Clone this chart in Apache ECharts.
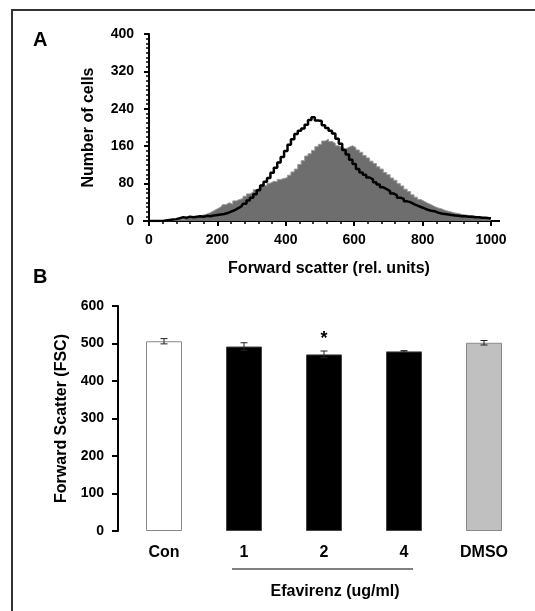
<!DOCTYPE html>
<html>
<head>
    <meta charset="UTF-8">
    <title>Forward scatter</title>
    <script src="https://cdn.jsdelivr.net/npm/echarts@6/dist/echarts.min.js"></script>
    <style>
        body { margin: 0; background: #fff; }
        #main { width: 535px; height: 611px; }
    </style>
</head>
<body>
<div id="main"></div>
<script>
// panel A: histogram, one value per 10-unit channel bin
var channels = [0,10,20,30,40,50,60,70,80,90,
    100,110,120,130,140,150,160,170,180,190,
    200,210,220,230,240,250,260,270,280,290,
    300,310,320,330,340,350,360,370,380,390,
    400,410,420,430,440,450,460,470,480,490,
    500,510,520,530,540,550,560,570,580,590,
    600,610,620,630,640,650,660,670,680,690,
    700,710,720,730,740,750,760,770,780,790,
    800,810,820,830,840,850,860,870,880,890,
    900,910,920,930,940,950,960,970,980,990,1000];
var controlCounts = [0,0,0,0,0,0,0,1,2,3,
    4,5,6,7,9,11,13,15,18,22,
    26,30,35,39,36,43,46,48,53,58,
    62,67,71,77,75,81,85,84,89,91,
    93,98,105,111,121,129,139,144,151,159,
    164,171,175,170,166,161,158,154,158,161,
    157,152,147,140,135,128,123,116,111,104,
    99,92,87,80,75,68,63,56,51,46,
    42,38,35,31,28,26,23,21,19,17,
    16,14,13,12,11,10,9,8,7,6,5];
var efavirenzCounts = [0,0,0,0,0,1,2,3,4,6,
    8,7,9,8,9,10,9,11,10,12,
    13,14,15,17,20,23,27,31,37,44,
    50,57,66,76,84,92,103,114,125,137,
    150,163,175,186,193,198,206,216,222,215,
    214,205,199,193,187,176,165,152,142,131,
    122,111,104,99,93,89,83,78,72,68,
    64,59,55,50,47,42,40,36,33,30,
    27,24,22,21,18,16,15,14,13,12,
    11,10,10,9,9,8,8,7,7,6,6];

// panel B: mean FSC with error
var groups = ['Con', '1', '2', '4', 'DMSO'];
var fscMean = [506, 492, 471, 479, 502];
var fscErr = [7, 10, 9, 2, 6];
var sigMarks = ['', '', '*', '', ''];

var barFill = ['#ffffff', '#000000', '#000000', '#000000', '#c0c0c0'];
var barBorder = ['#888888', '#444444', '#444444', '#444444', '#888888'];

function pairs(xs, ys) {
    return xs.map(function (x, i) { return [x, ys[i]]; });
}

var font = 'Liberation Sans, Arial, sans-serif';
var chart = echarts.init(document.getElementById('main'), null, {renderer: 'canvas'});

function renderErr(params, api) {
    var i = params.dataIndex;
    var cat = api.value(0), m = api.value(1), e = api.value(2);
    var top = api.coord([cat, m + e]);
    var bot = api.coord([cat, m - e]);
    var hw = 3.5;
    var st = {stroke: '#222', lineWidth: 1};
    var kids = [
        {type: 'line', shape: {x1: top[0], y1: top[1], x2: bot[0], y2: bot[1]}, style: st},
        {type: 'line', shape: {x1: top[0] - hw, y1: top[1], x2: top[0] + hw, y2: top[1]}, style: st},
        {type: 'line', shape: {x1: bot[0] - hw, y1: bot[1], x2: bot[0] + hw, y2: bot[1]}, style: st}
    ];
    if (sigMarks[i]) {
        kids.push({type: 'text', x: top[0], y: top[1] - 3,
            style: {text: sigMarks[i], fill: '#000', font: 'bold 18px ' + font, align: 'center', verticalAlign: 'bottom'}});
    }
    return {type: 'group', children: kids};
}

var tickFont = {fontSize: 14, fontWeight: 'bold', color: '#000'};

var option = {
    animation: false,
    backgroundColor: '#fff',
    textStyle: {fontFamily: font},
    title: [
        {text: 'A', left: 33, top: 30, padding: 0, textStyle: {fontSize: 20, fontWeight: 'bold', color: '#000', fontFamily: font}},
        {text: 'B', left: 33, top: 267, padding: 0, textStyle: {fontSize: 20, fontWeight: 'bold', color: '#000', fontFamily: font}}
    ],
    grid: [
        {left: 149, right: 44, top: 34, bottom: 390},
        {left: 124, right: 11, top: 306, bottom: 80}
    ],
    xAxis: [
        {
            gridIndex: 0, type: 'value', min: 0, max: 1000, interval: 200,
            name: 'Forward scatter (rel. units)', nameLocation: 'middle', nameGap: 40,
            nameTextStyle: {fontSize: 16, fontWeight: 'bold', color: '#000', padding: [0, 0, 0, 18]},
            axisLine: {lineStyle: {color: '#000', width: 2}},
            axisTick: {length: 5, lineStyle: {color: '#000', width: 2}},
            minorTick: {show: true, splitNumber: 5, length: 3, lineStyle: {color: '#000', width: 1.5}},
            axisLabel: Object.assign({margin: 12, formatter: function (v) { return String(v); }}, tickFont),
            splitLine: {show: false}
        },
        {
            gridIndex: 1, type: 'category', data: groups,
            axisLine: {show: false}, axisTick: {show: false},
            axisLabel: {fontSize: 16, fontWeight: 'bold', color: '#000', margin: 14}
        }
    ],
    yAxis: [
        {
            gridIndex: 0, type: 'value', min: 0, max: 400, interval: 80, offset: 2,
            name: 'Number of cells', nameLocation: 'middle', nameGap: 50,
            nameTextStyle: {fontSize: 16, fontWeight: 'bold', color: '#000'},
            axisLine: {show: true, lineStyle: {color: '#000', width: 2}},
            axisTick: {show: true, length: 5, lineStyle: {color: '#000', width: 2}},
            minorTick: {show: true, splitNumber: 8, length: 3, lineStyle: {color: '#000', width: 1.5}},
            axisLabel: Object.assign({margin: 13}, tickFont),
            splitLine: {show: false}
        },
        {
            gridIndex: 1, type: 'value', min: 0, max: 600, interval: 100, offset: 6,
            name: 'Forward Scatter (FSC)', nameLocation: 'middle', nameGap: 48,
            nameTextStyle: {fontSize: 16, fontWeight: 'bold', color: '#000'},
            axisLine: {show: true, lineStyle: {color: '#000', width: 2}},
            axisTick: {show: true, length: 6, lineStyle: {color: '#000', width: 2}},
            axisLabel: Object.assign({margin: 14}, tickFont),
            splitLine: {show: false}
        }
    ],
    series: [
        {
            type: 'line', xAxisIndex: 0, yAxisIndex: 0, step: 'middle',
            data: pairs(channels, controlCounts), showSymbol: false,
            lineStyle: {color: '#9a9a9a', width: 1},
            areaStyle: {color: '#6e6e6e', opacity: 1}
        },
        {
            type: 'line', xAxisIndex: 0, yAxisIndex: 0, step: 'middle',
            data: pairs(channels, efavirenzCounts), showSymbol: false,
            lineStyle: {color: '#000', width: 2.5}
        },
        {
            type: 'bar', xAxisIndex: 1, yAxisIndex: 1, barWidth: 36,
            data: fscMean.map(function (v, i) {
                return {value: v, itemStyle: {color: barFill[i], borderColor: barBorder[i], borderWidth: 1}};
            })
        },
        {
            type: 'custom', xAxisIndex: 1, yAxisIndex: 1, z: 5,
            renderItem: renderErr,
            data: fscMean.map(function (v, i) { return [i, v, fscErr[i]]; })
        }
    ],
    graphic: [
        {type: 'rect', shape: {x: 12, y: 10, width: 620, height: 700}, style: {fill: null, stroke: '#333', lineWidth: 2}, silent: true},
        {type: 'line', shape: {x1: 143, y1: 221, x2: 500, y2: 221}, style: {stroke: '#000', lineWidth: 2}, z: -1},
        {type: 'line', shape: {x1: 232, y1: 569, x2: 413, y2: 569}, style: {stroke: '#000', lineWidth: 1}},
        {type: 'text', x: 335, y: 592, style: {text: 'Efavirenz (ug/ml)', font: 'bold 16px ' + font, fill: '#000', align: 'center', verticalAlign: 'middle'}}
    ]
};
chart.setOption(option);
</script>
</body>
</html>
